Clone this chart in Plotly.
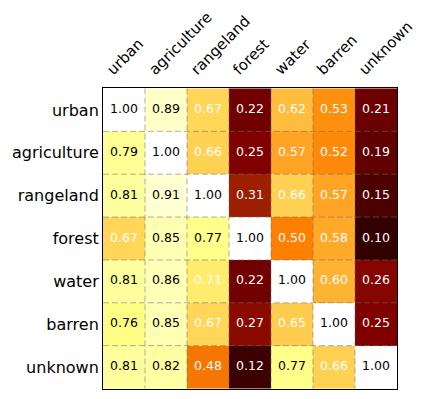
import plotly.graph_objects as go

labels = ["urban", "agriculture", "rangeland", "forest", "water", "barren", "unknown"]
values = [
    [1.00, 0.89, 0.67, 0.22, 0.62, 0.53, 0.21],
    [0.79, 1.00, 0.66, 0.25, 0.57, 0.52, 0.19],
    [0.81, 0.91, 1.00, 0.31, 0.66, 0.57, 0.15],
    [0.67, 0.85, 0.77, 1.00, 0.50, 0.58, 0.10],
    [0.81, 0.86, 0.71, 0.22, 1.00, 0.60, 0.26],
    [0.76, 0.85, 0.67, 0.27, 0.65, 1.00, 0.25],
    [0.81, 0.82, 0.48, 0.12, 0.77, 0.66, 1.00],
]

afmhot = [[0.0, "rgb(0,0,0)"], [0.25, "rgb(128,0,0)"], [0.5, "rgb(255,128,0)"],
          [0.75, "rgb(255,255,128)"], [1.0, "rgb(255,255,255)"]]

n = len(labels)
idx = list(range(n))
FONT = "DejaVu Sans"

fig = go.Figure()
fig.add_trace(go.Heatmap(z=values, x=idx, y=idx, colorscale=afmhot, zmin=0, zmax=1,
                         showscale=False, hoverinfo="skip"))

tx, ty, tt, tc = [], [], [], []
for i in range(n):
    for j in range(n):
        v = values[i][j]
        tx.append(j); ty.append(i); tt.append(f"{v:.2f}")
        tc.append("white" if v < 0.75 else "black")
fig.add_trace(go.Scatter(x=tx, y=ty, mode="text", text=tt,
                         textfont=dict(color=tc, size=12.5, family=FONT),
                         hoverinfo="skip", showlegend=False))

for k in range(n - 1):
    b = k + 0.5
    fig.add_shape(type="line", x0=b, x1=b, y0=-0.5, y1=n - 0.5,
                  line=dict(color="rgba(110,110,110,0.55)", width=1, dash="6px,3px"), layer="above")
    fig.add_shape(type="line", y0=b, y1=b, x0=-0.5, x1=n - 0.5,
                  line=dict(color="rgba(110,110,110,0.55)", width=1, dash="6px,3px"), layer="above")

fig.update_layout(
    width=426, height=399,
    margin=dict(l=95, r=37, t=80, b=18),
    paper_bgcolor="white", plot_bgcolor="white",
    font=dict(family=FONT, size=16, color="black"),
    showlegend=False,
)
fig.update_xaxes(side="top", tickvals=idx, ticktext=labels, tickangle=-45,
                 range=[-0.5, n - 0.5], showgrid=False, zeroline=False,
                 showline=True, linecolor="black", linewidth=1, mirror=True,
                 ticks="", ticklen=0, automargin=False,
                 ticklabelshift=-16, ticklabelstandoff=3,
                 tickfont=dict(size=15, family=FONT))
fig.update_yaxes(tickvals=idx, ticktext=labels, autorange="reversed",
                 showgrid=False, zeroline=False,
                 showline=True, linecolor="black", linewidth=1, mirror=True,
                 ticks="", ticklen=0, automargin=False,
                 tickfont=dict(size=16, family=FONT))

fig.write_html("out.html")
